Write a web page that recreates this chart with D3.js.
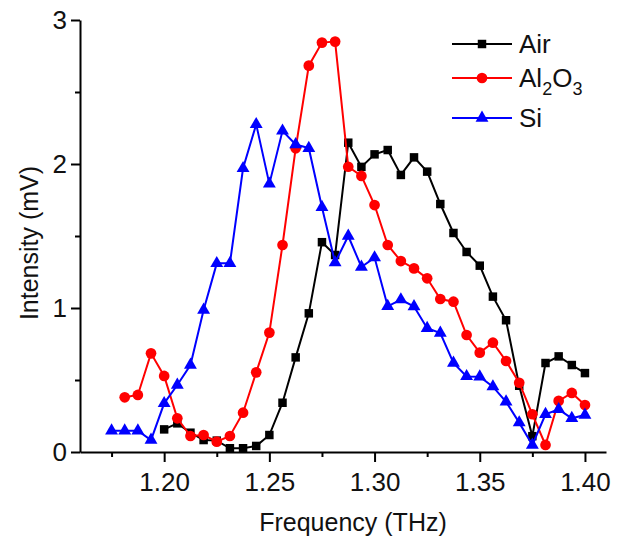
<!DOCTYPE html>
<html>
<head>
<meta charset="utf-8">
<script src="https://cdn.jsdelivr.net/npm/d3@7"></script>
<style>
    body { margin: 0; background: #fff; }
    text { font-family: "Liberation Sans", Arial, sans-serif; }
</style>
</head>
<body>
<div id="chart"></div>
<script>
// Frequencies (THz) and intensities (mV)
const airFreq = [1.2, 1.20625, 1.2125, 1.21875, 1.225, 1.23125, 1.2375, 1.24375, 1.25, 1.25625,
    1.2625, 1.26875, 1.275, 1.28125, 1.2875, 1.29375, 1.3, 1.30625, 1.3125, 1.31875,
    1.325, 1.33125, 1.3375, 1.34375, 1.35, 1.35625, 1.3625, 1.36875, 1.375, 1.38125,
    1.3875, 1.39375, 1.4];
const airValues = [0.157, 0.199, 0.134, 0.083, 0.079, 0.026, 0.026, 0.042, 0.118, 0.342,
    0.657, 0.963, 1.457, 1.368, 2.148, 1.98, 2.067, 2.097, 1.924, 2.046,
    1.947, 1.722, 1.521, 1.389, 1.294, 1.079, 0.915, 0.46, 0.11, 0.618,
    0.664, 0.604, 0.548];

const aloFreq = [1.18125, 1.1875, 1.19375, 1.2, 1.20625, 1.2125, 1.21875, 1.225, 1.23125, 1.2375,
    1.24375, 1.25, 1.25625, 1.2625, 1.26875, 1.275, 1.28125, 1.2875, 1.29375, 1.3,
    1.30625, 1.3125, 1.31875, 1.325, 1.33125, 1.3375, 1.34375, 1.35, 1.35625, 1.3625,
    1.36875, 1.375, 1.38125, 1.3875, 1.39375, 1.4];
const aloValues = [0.38, 0.396, 0.685, 0.528, 0.234, 0.111, 0.118, 0.072, 0.111, 0.273,
    0.553, 0.829, 1.4375, 2.109, 2.683, 2.843, 2.85, 1.981, 1.917, 1.715,
    1.4375, 1.326, 1.275, 1.206, 1.0625, 1.044, 0.8125, 0.69, 0.759, 0.632,
    0.481, 0.262, 0.049, 0.355, 0.41, 0.326];

const siFreq = [1.175, 1.18125, 1.1875, 1.19375, 1.2, 1.20625, 1.2125, 1.21875, 1.225, 1.23125,
    1.2375, 1.24375, 1.25, 1.25625, 1.2625, 1.26875, 1.275, 1.28125, 1.2875, 1.29375,
    1.3, 1.30625, 1.3125, 1.31875, 1.325, 1.33125, 1.3375, 1.34375, 1.35, 1.35625,
    1.3625, 1.36875, 1.375, 1.38125, 1.3875, 1.39375, 1.4];
const siValues = [0.148, 0.148, 0.148, 0.083, 0.338, 0.465, 0.604, 0.986, 1.31, 1.31,
    1.97, 2.275, 1.862, 2.23, 2.135, 2.11, 1.70, 1.315, 1.50, 1.285,
    1.35, 1.012, 1.058, 1.01, 0.859, 0.826, 0.618, 0.525, 0.523, 0.454,
    0.349, 0.204, 0.049, 0.262, 0.296, 0.234, 0.257];

const xTicks = [1.20, 1.25, 1.30, 1.35, 1.40];
const xMinorTicks = [1.175, 1.225, 1.275, 1.325, 1.375];
const yTicks = [0, 1, 2, 3];
const yMinorTicks = [0.5, 1.5, 2.5];

const width = 618;
const height = 542;

const series = [
    { name: 'Air', freq: airFreq, values: airValues, color: '#000000', symbol: d3.symbolSquare, size: 72 },
    { name: 'Al2O3', freq: aloFreq, values: aloValues, color: '#ff0000', symbol: d3.symbolCircle, size: 90 },
    { name: 'Si', freq: siFreq, values: siValues, color: '#0000ff', symbol: d3.symbolTriangle, size: 72 }
];

const x = d3.scaleLinear().domain([1.16, 1.41]).range([80, 606]);
const y = d3.scaleLinear().domain([0, 3]).range([452, 20]);

const svg = d3.select('#chart')
    .append('svg')
    .attr('width', width)
    .attr('height', height);

// Axes (left and bottom only), minor ticks drawn as a second tick-only axis
const xAxis = svg.append('g')
    .attr('transform', `translate(0,${y(0)})`)
    .call(d3.axisBottom(x).tickValues(xTicks).tickFormat(d3.format('.2f')).tickSize(10).tickSizeOuter(0));
svg.append('g')
    .attr('transform', `translate(0,${y(0)})`)
    .call(d3.axisBottom(x).tickValues(xMinorTicks).tickFormat('').tickSize(5).tickSizeOuter(0))
    .select('.domain').remove();

const yAxis = svg.append('g')
    .attr('transform', `translate(${x(1.16)},0)`)
    .call(d3.axisLeft(y).tickValues(yTicks).tickFormat(d3.format('d')).tickSize(9).tickSizeOuter(0));
svg.append('g')
    .attr('transform', `translate(${x(1.16)},0)`)
    .call(d3.axisLeft(y).tickValues(yMinorTicks).tickFormat('').tickSize(5).tickSizeOuter(0))
    .select('.domain').remove();

svg.selectAll('.domain, .tick line')
    .attr('stroke', '#000')
    .attr('stroke-width', 2);

xAxis.selectAll('.tick text')
    .attr('dy', '1.0em')
    .style('font-size', '26px')
    .attr('fill', '#111');
yAxis.selectAll('.tick text')
    .attr('x', -13)
    .style('font-size', '26px')
    .attr('fill', '#111');

// Axis titles
svg.append('text')
    .attr('x', 353)
    .attr('y', 531)
    .attr('text-anchor', 'middle')
    .style('font-size', '25px')
    .attr('fill', '#111')
    .text('Frequency (THz)');

svg.append('text')
    .attr('transform', 'translate(38,243) rotate(-90)')
    .attr('text-anchor', 'middle')
    .style('font-size', '25px')
    .attr('fill', '#111')
    .text('Intensity (mV)');

// Lines and markers
const line = d3.line()
    .x(d => x(d[0]))
    .y(d => y(d[1]));

series.forEach(s => {
    const pts = s.freq.map((f, i) => [f, s.values[i]]);
    const g = svg.append('g');
    g.append('path')
        .datum(pts)
        .attr('d', line)
        .attr('fill', 'none')
        .attr('stroke', s.color)
        .attr('stroke-width', 2);
    g.selectAll('path.marker')
        .data(pts)
        .enter()
        .append('path')
        .attr('class', 'marker')
        .attr('transform', d => `translate(${x(d[0])},${y(d[1])})`)
        .attr('d', d3.symbol().type(s.symbol).size(s.size))
        .attr('fill', s.color);
});

// Legend
const legendRows = [44, 78, 118];
const legend = svg.append('g');
series.forEach((s, i) => {
    const ly = legendRows[i];
    legend.append('line')
        .attr('x1', 452).attr('x2', 512)
        .attr('y1', ly).attr('y2', ly)
        .attr('stroke', s.color)
        .attr('stroke-width', 2);
    legend.append('path')
        .attr('transform', `translate(482,${ly})`)
        .attr('d', d3.symbol().type(s.symbol).size(s.size))
        .attr('fill', s.color);
    const t = legend.append('text')
        .attr('x', 519)
        .attr('y', ly + 9)
        .style('font-size', '26px')
        .attr('fill', '#111');
    if (s.name === 'Al2O3') {
        t.append('tspan').text('Al');
        t.append('tspan').attr('dy', 8).style('font-size', '18px').text('2');
        t.append('tspan').attr('dy', -8).text('O');
        t.append('tspan').attr('dy', 8).style('font-size', '18px').text('3');
    } else {
        t.text(s.name);
    }
});
</script>
</body>
</html>
